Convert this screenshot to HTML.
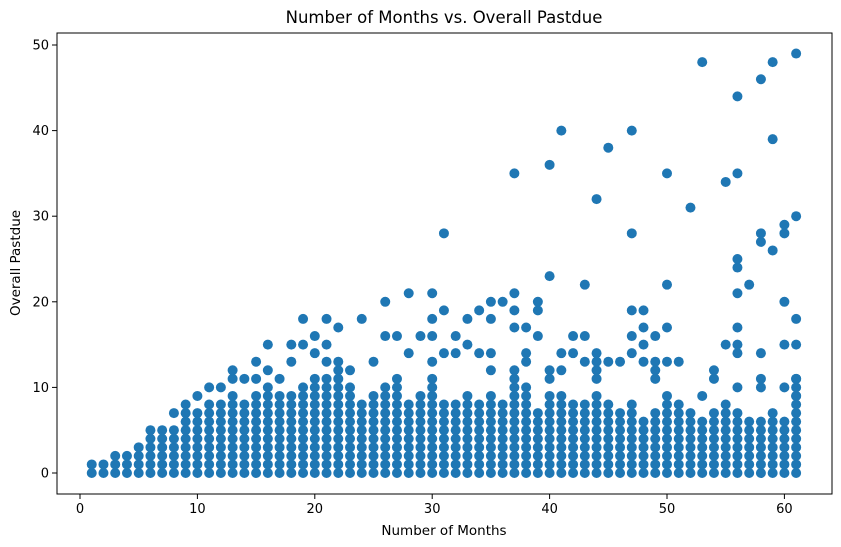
<!DOCTYPE html>
<html><head><meta charset="utf-8"><style>
body{margin:0;background:#fff;font-family:"DejaVu Sans","Liberation Sans",sans-serif}
svg{display:block}
</style></head><body>
<svg id="chart" width="841" height="547" viewBox="0 0 841 547" xmlns="http://www.w3.org/2000/svg" font-family="DejaVu Sans, Liberation Sans, sans-serif">
<rect width="841" height="547" fill="#fff"/>
<text x="444" y="23" font-size="16.5" text-anchor="middle" fill="#000">Number of Months vs. Overall Pastdue</text>
<text x="444" y="535" font-size="13.5" text-anchor="middle" fill="#000">Number of Months</text>
<text transform="translate(20,263) rotate(-90)" font-size="13.5" text-anchor="middle" fill="#000">Overall Pastdue</text>
<g id="points"></g>
<g id="axes"></g>
</svg>
<script>
const denseMax=[1,1,2,2,3,5,5,5,7,7,8,8,9,8,9,10,9,9,10,11,11,11,10,8,9,10,11,8,9,11,8,8,9,8,9,8,11,10,7,9,9,8,8,9,8,7,8,6,7,9,8,7,6,7,8,7,6,6,7,6,11];
const outlierMonths=[8,9,10,11,12,13,13,14,15,15,16,16,17,18,18,19,19,20,20,21,21,21,22,22,22,23,24,25,26,26,27,28,28,29,30,30,30,30,31,31,31,32,32,33,33,34,34,35,35,35,35,36,37,37,37,37,37,38,38,38,39,39,39,40,40,40,40,41,41,41,42,42,43,43,43,44,44,44,44,44,45,45,46,47,47,47,47,47,48,48,48,48,49,49,49,49,50,50,50,50,51,52,53,53,54,54,55,55,56,56,56,56,56,56,56,56,56,57,58,58,58,58,58,58,59,59,59,60,60,60,60,60,61,61,61,61,61,61];
const outlierValues=[7,8,9,10,10,11,12,11,11,13,12,15,11,13,15,15,18,14,16,13,15,18,12,13,17,12,18,13,16,20,16,14,21,16,13,16,18,21,14,19,28,14,16,15,18,14,19,12,14,18,20,20,12,17,19,21,35,13,14,17,16,19,20,11,12,23,36,12,14,40,14,16,13,16,22,11,12,13,14,32,13,38,13,14,16,19,28,40,13,15,17,19,11,12,13,16,13,17,22,35,13,31,9,48,11,12,15,34,10,14,15,17,21,24,25,35,44,22,10,11,14,27,28,46,26,39,48,10,15,20,28,29,9,11,15,18,30,49];
const xTicks=[0,10,20,30,40,50,60];
const yTicks=[0,10,20,30,40,50];
const NS="http://www.w3.org/2000/svg";
const L=57,R=832,T=33,B=494;
function xs(v){return 80+v*11.74;}
function ys(v){return 473-v*8.56;}
const pg=document.getElementById('points');
function dot(m,v){
  const c=document.createElementNS(NS,'circle');
  c.setAttribute('cx',xs(m));c.setAttribute('cy',ys(v));c.setAttribute('r',5);
  c.setAttribute('fill','#1f77b4');
  
  
  pg.appendChild(c);
}
denseMax.forEach((k,i)=>{for(let v=0;v<=k;v++)dot(i+1,v);});
outlierMonths.forEach((m,i)=>dot(m,outlierValues[i]));
const ag=document.getElementById('axes');
const frame=document.createElementNS(NS,'rect');
frame.setAttribute('x',L);frame.setAttribute('y',T);frame.setAttribute('width',R-L);frame.setAttribute('height',B-T);
frame.setAttribute('fill','none');frame.setAttribute('stroke','#000');frame.setAttribute('stroke-width','1');


ag.appendChild(frame);
xTicks.forEach(t=>{
  const l=document.createElementNS(NS,'line');
  l.setAttribute('x1',xs(t));l.setAttribute('x2',xs(t));l.setAttribute('y1',B);l.setAttribute('y2',B+5);l.setAttribute('stroke','#000');
  
  
  ag.appendChild(l);
  const tx=document.createElementNS(NS,'text');
  tx.setAttribute('x',xs(t));tx.setAttribute('y',B+19);tx.setAttribute('font-size','13');tx.setAttribute('text-anchor','middle');
  tx.textContent=t;
  
  
  ag.appendChild(tx);
});
yTicks.forEach(t=>{
  const l=document.createElementNS(NS,'line');
  l.setAttribute('x1',L-5);l.setAttribute('x2',L);l.setAttribute('y1',ys(t));l.setAttribute('y2',ys(t));l.setAttribute('stroke','#000');
  
  
  ag.appendChild(l);
  const tx=document.createElementNS(NS,'text');
  tx.setAttribute('x',L-8);tx.setAttribute('y',ys(t)+4.5);tx.setAttribute('font-size','13');tx.setAttribute('text-anchor','end');
  tx.textContent=t;
  
  
  ag.appendChild(tx);
});
</script>
</body></html>
